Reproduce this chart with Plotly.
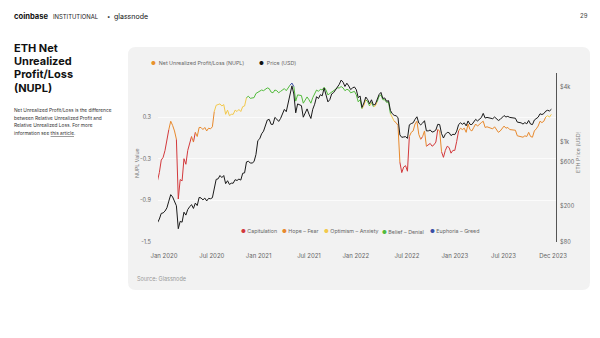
import numpy as np
import pandas as pd
import plotly.graph_objects as go

W, H = 600, 338
def px(x): return x / W
def py(y): return 1 - y / H

FONT = "Inter, Lato, sans-serif"

# ---------------- data (weekly, Mondays) ----------------
first_week = "2019-12-30"

price_2019 = [130]
price_2020 = [143, 165, 167, 175, 190, 225, 265, 250, 225, 200, 112, 135, 132,
              170, 158, 182, 195, 206, 187, 214, 201, 247, 244, 232, 243, 226,
              241, 239, 245, 320, 390, 395, 430, 408, 430, 350, 377, 343, 354,
              354, 387, 379, 393, 383, 455, 460, 606, 616, 591, 589, 612, 730]
price_2021 = [1040, 1090, 1235, 1320, 1510, 1750, 1780, 1570, 1570, 1870, 1790, 1690, 1820,
              2080, 2290, 2160, 2660, 3430, 4150, 3380, 2100, 2630, 2590, 2520, 1880, 2080,
              2320, 2030, 1820, 2300, 2610, 3160, 3010, 3320, 3230, 3930, 3290, 2770, 2930,
              3390, 3500, 3750, 4130, 4320, 4810, 4560, 4090, 4440, 4140, 3780, 3940, 4040]
price_2022 = [3770, 3080, 3210, 2410, 2690, 3130, 2930, 2640, 2920, 2560, 2590, 2900, 3330,
              3520, 3020, 3060, 2810, 2860, 2230, 2050, 1970, 1950, 1860, 1200, 1130, 1140,
              1150, 1100, 1550, 1600, 1630, 1780, 1900, 1620, 1550, 1620, 1720, 1330, 1330,
              1360, 1290, 1310, 1360, 1570, 1560, 1240, 1110, 1220, 1280, 1270, 1180, 1220]
price_2023 = [1210, 1320, 1560, 1630, 1570, 1630, 1510, 1710, 1570, 1560, 1680, 1780, 1710,
              1800, 1860, 2070, 1840, 1870, 1850, 1820, 1810, 1890, 1810, 1730, 1780, 1860,
              1960, 1890, 1920, 1870, 1860, 1830, 1830, 1660, 1650, 1630, 1580, 1640, 1590,
              1730, 1580, 1560, 1750, 1800, 1880, 2050, 2010, 2060, 2190, 2240, 2200, 2300]

nupl_2019 = [-0.62]
nupl_2020 = [-0.50, -0.32, -0.28, -0.18, -0.05, 0.12, 0.24, 0.18, 0.10, -0.02, -0.88, -0.60, -0.62,
             -0.30, -0.38, -0.18, -0.08, 0.02, -0.06, 0.08, 0.02, 0.15, 0.15, 0.12, 0.15, 0.10,
             0.14, 0.13, 0.16, 0.38, 0.47, 0.48, 0.49, 0.46, 0.48, 0.34, 0.40, 0.32, 0.34,
             0.34, 0.40, 0.38, 0.41, 0.38, 0.45, 0.46, 0.58, 0.60, 0.57, 0.57, 0.58, 0.64]
nupl_2021 = [0.66, 0.68, 0.69, 0.68, 0.70, 0.72, 0.71, 0.66, 0.65, 0.69, 0.68, 0.65, 0.67,
             0.69, 0.71, 0.68, 0.72, 0.76, 0.79, 0.74, 0.53, 0.62, 0.62, 0.61, 0.50, 0.55,
             0.59, 0.55, 0.50, 0.58, 0.63, 0.69, 0.67, 0.70, 0.69, 0.73, 0.69, 0.62, 0.64,
             0.66, 0.68, 0.70, 0.72, 0.72, 0.74, 0.72, 0.68, 0.70, 0.69, 0.65, 0.66, 0.67]
nupl_2022 = [0.62, 0.52, 0.55, 0.42, 0.47, 0.55, 0.52, 0.46, 0.51, 0.45, 0.46, 0.52, 0.60,
             0.62, 0.55, 0.55, 0.51, 0.52, 0.35, 0.28, 0.24, 0.22, 0.18, -0.35, -0.50, -0.42,
             -0.40, -0.48, 0.02, 0.08, 0.10, 0.20, 0.24, 0.05, -0.02, 0.02, 0.10, -0.12, -0.10,
             -0.08, -0.12, -0.10, -0.06, 0.12, 0.10, -0.20, -0.28, -0.18, -0.12, -0.14, -0.22, -0.18]
nupl_2023 = [-0.18, -0.05, 0.10, 0.14, 0.12, 0.14, 0.08, 0.20, 0.12, 0.10, 0.15, 0.20, 0.17,
             0.20, 0.22, 0.24, 0.15, 0.16, 0.15, 0.14, 0.13, 0.16, 0.12, 0.08, 0.10, 0.14,
             0.17, 0.14, 0.15, 0.12, 0.12, 0.11, 0.11, 0.03, 0.02, 0.02, 0.01, 0.03, 0.02,
             0.08, 0.02, 0.01, 0.10, 0.13, 0.17, 0.24, 0.22, 0.24, 0.30, 0.32, 0.30, 0.34]

zone_names = ["Capitulation", "Hope – Fear", "Optimism – Anxiety", "Belief – Denial", "Euphoria – Greed"]
zone_colors = ["#d3393c", "#e8892c", "#f2c94c", "#52bb3c", "#3a4ea6"]
zone_edges = [0, 0.25, 0.5, 0.75]

x_tick_dates = ["2020-01-23", "2020-07-18", "2021-01-07", "2021-07-12", "2022-01-01",
                "2022-07-09", "2023-01-02", "2023-07-01", "2023-12-31"]
x_tick_text = ["Jan 2020", "Jul 2020", "Jan 2021", "Jul 2021", "Jan 2022",
               "Jul 2022", "Jan 2023", "Jul 2023", "Dec 2023"]
nupl_ticks = [0.3, -0.3, -0.9, -1.5]
nupl_tick_text = ["0.3", "-0.3", "-0.9", "-1.5"]
price_ticks = [80, 200, 600, 1000, 4000]
price_tick_text = ["$80", "$200", "$600", "$1k", "$4k"]

price = price_2019 + price_2020 + price_2021 + price_2022 + price_2023
nupl = nupl_2019 + nupl_2020 + nupl_2021 + nupl_2022 + nupl_2023
dates = pd.date_range(first_week, periods=len(price), freq="7D")

def zone(v):
    return sum(v >= e for e in zone_edges)

runs = []
cur = zone(nupl[0]); idx = [0]
for i in range(1, len(nupl)):
    z = zone(nupl[i])
    idx.append(i)
    if z != cur:
        runs.append((cur, idx)); idx = [i]; cur = z
runs.append((cur, idx))

fig = go.Figure()
for zi in range(5):
    xs, ys = [], []
    for z, ids in runs:
        if z == zi:
            xs += [dates[k] for k in ids] + [None]
            ys += [nupl[k] for k in ids] + [None]
    if not xs:
        xs, ys = [None], [None]
    fig.add_trace(go.Scatter(x=xs, y=ys, mode="lines", line=dict(color=zone_colors[zi], width=1),
                             connectgaps=False, showlegend=False, name=zone_names[zi]))

fig.add_trace(go.Scatter(x=dates, y=price, mode="lines", yaxis="y2",
                         line=dict(color="#1a1a1a", width=1), showlegend=False, name="Price (USD)"))

# ---------------- decoration ----------------
x0, x1, y0, y1, r = 128, 590, 47, 290, 8
card = (f"M {px(x0+r)},{py(y0)} L {px(x1-r)},{py(y0)} Q {px(x1)},{py(y0)} {px(x1)},{py(y0+r)} "
        f"L {px(x1)},{py(y1-r)} Q {px(x1)},{py(y1)} {px(x1-r)},{py(y1)} "
        f"L {px(x0+r)},{py(y1)} Q {px(x0)},{py(y1)} {px(x0)},{py(y1-r)} "
        f"L {px(x0)},{py(y0+r)} Q {px(x0)},{py(y0)} {px(x0+r)},{py(y0)} Z")
shapes = [dict(type="path", path=card, xref="paper", yref="paper", layer="below",
               fillcolor="#f2f2f2", line=dict(width=0))]

ann = []
def A(x, y, text, size=6, color="#555", anchor="left", bold=False, angle=0, yanchor="middle"):
    ann.append(dict(x=px(x), y=py(y), xref="paper", yref="paper", text=(f"<b>{text}</b>" if bold else text),
                    showarrow=False, xanchor=anchor, yanchor=yanchor, textangle=angle,
                    font=dict(family=FONT, size=size, color=color)))

# header
A(12, 16, "coinbase", 7.6, "#111", bold=True)
A(51, 16.5, "INSTITUTIONAL", 5.9, "#222")
A(105, 16.5, "•", 6, "#222")
A(112, 16, "glassnode", 7, "#111")
A(584, 15, "29", 6, "#444", anchor="center")

# title
for i, t in enumerate(["ETH Net", "Unrealized", "Profit/Loss", "(NUPL)"]):
    A(12, 48 + i * 13.2, t, 11, "#111", bold=True)
desc = ["Net Unrealized Profit/Loss is the difference",
        "between Relative Unrealized Profit and",
        "Relative Unrealized Loss. For more",
        "information see <u>this article</u>."]
for i, t in enumerate(desc):
    A(12, 110 + i * 7.7, t, 4.8, "#333")

# top legend
A(149, 63, '<span style="color:#e8922c">●</span>  Net Unrealized Profit/Loss (NUPL)', 5.3, "#666")
A(257, 63, '<span style="color:#111">●</span>  Price (USD)', 5.3, "#666")

# zone legend
for xd, nm, c in zip([239, 280, 322, 380, 428], zone_names, zone_colors):
    A(xd, 232, f'<span style="color:{c}">●</span> {nm}', 5.3, "#666")

# axis titles
A(137, 163, "NUPL Value", 5.3, "#777", anchor="center", angle=-90)
A(578, 153, "ETH Price (USD)", 5.3, "#777", anchor="center", angle=-90)
A(135, 279, "Source: Glassnode", 5.5, "#999")

fig.update_layout(
    width=W, height=H, autosize=False,
    margin=dict(l=0, r=0, t=0, b=0, pad=0, autoexpand=False),
    paper_bgcolor="white", plot_bgcolor="rgba(0,0,0,0)",
    showlegend=False, shapes=shapes, annotations=ann,
    font=dict(family=FONT),
    xaxis=dict(domain=[px(158), px(556)], range=["2020-01-01", "2024-01-11"], type="date",
               automargin=False,
               tickvals=x_tick_dates, ticktext=x_tick_text, showgrid=False, zeroline=False,
               showline=False, ticks="", tickfont=dict(size=6, color="#666", family=FONT),
               ticklabelstandoff=9),
    yaxis=dict(domain=[py(242), py(73)], range=[-1.5, 0.935], tickvals=nupl_ticks,
               automargin=False,
               ticktext=nupl_tick_text, showgrid=True, gridcolor="#fbfbfb", gridwidth=1,
               zeroline=False, showline=False, ticks="",
               tickfont=dict(size=5.6, color="#666", family=FONT), ticklabelstandoff=6),
    yaxis2=dict(overlaying="y", side="right", anchor="x", type="log", automargin=False,
                range=[np.log10(80), np.log10(5750)], tickvals=price_ticks, ticktext=price_tick_text,
                showgrid=False, zeroline=False, showline=True, linecolor="#555", linewidth=1,
                ticks="", tickfont=dict(size=5.6, color="#666", family=FONT), ticklabelstandoff=2),
)

fig.write_html("out.html")
